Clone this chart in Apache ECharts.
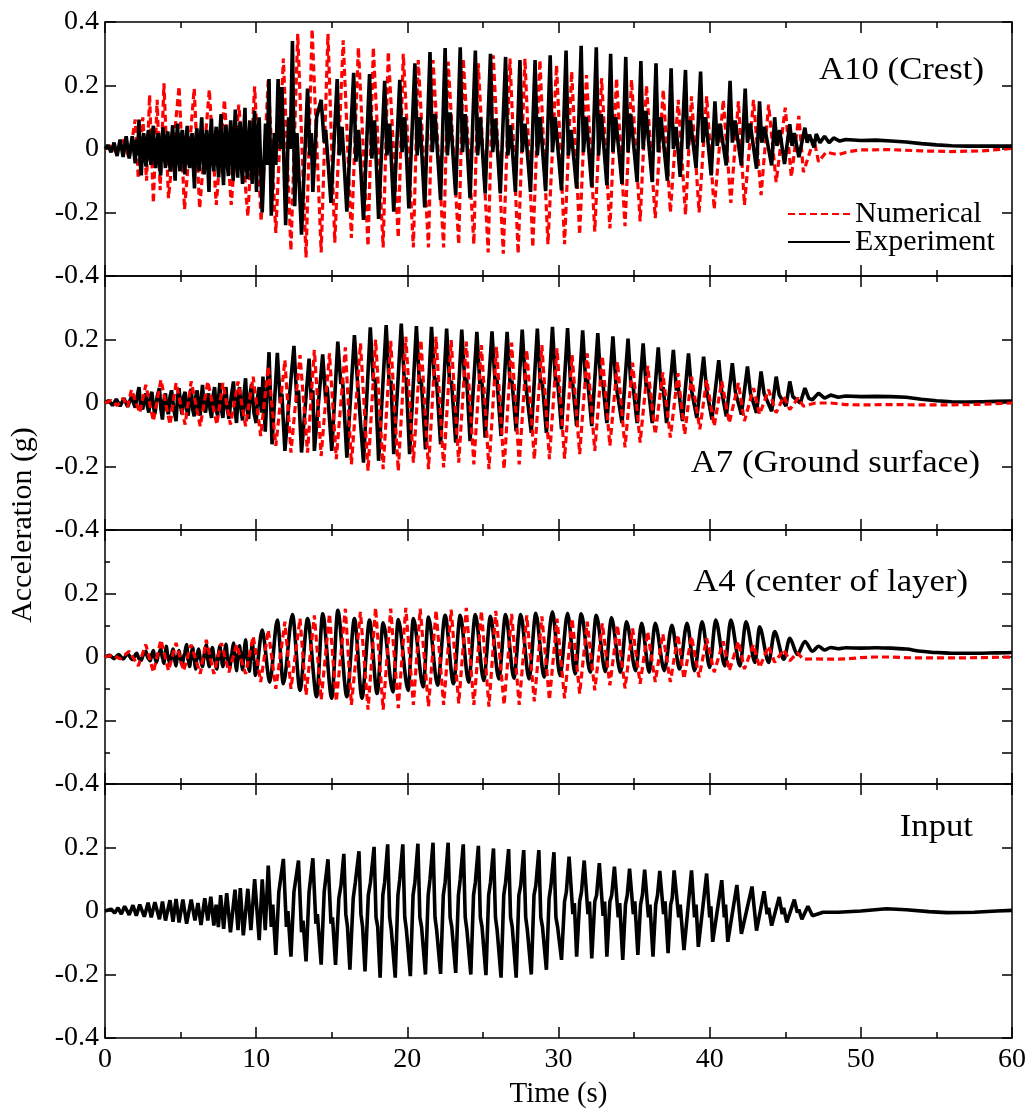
<!DOCTYPE html>
<html>
<head>
<meta charset="utf-8">
<script src="https://cdn.jsdelivr.net/npm/echarts@6/dist/echarts.min.js"></script>
<style>
  html, body { margin: 0; padding: 0; background: #ffffff; }
  #chart { width: 1032px; height: 1113px; }
</style>
</head>
<body>
<div id="chart"></div>
<script>
// ---- Acceleration records, [time (s), acceleration (g)] ----

// A10 (Crest)
const crestNumerical = [
  [0,0],[0.4,0.012],[0.8,-0.015],[1.2,0.03],[1.6,-0.03],[2.0,0.093],[2.2,-0.093],[2.5,0.1],[2.75,-0.1],
  [2.95,0.17],[3.2,-0.17],[3.45,0.155],[3.65,-0.13],[3.9,0.207],[4.2,-0.155],[4.9,0.197],[5.26,-0.19],
  [5.9,0.19],[6.26,-0.187],[6.9,0.187],[7.36,-0.176],[7.9,0.155],[8.35,-0.176],[8.85,0.14],[9.45,-0.212],
  [9.9,0.197],[10.33,-0.228],[10.8,0.217],[11.3,-0.264],[11.8,0.285],[12.3,-0.32],[12.75,0.363],[13.3,-0.342],
  [13.7,0.378],[14.3,-0.326],[14.75,0.363],[15.2,-0.295],[15.76,0.342],[16.3,-0.28],[16.76,0.32],[17.4,-0.306],
  [17.75,0.32],[18.4,-0.31],[18.74,0.306],[19.4,-0.28],[19.73,0.3],[20.4,-0.31],[20.72,0.28],[21.4,-0.31],
  [21.7,0.28],[22.4,-0.31],[22.7,0.275],[23.4,-0.3],[23.7,0.285],[24.4,-0.3],[24.69,0.27],[25.35,-0.326],
  [25.68,0.295],[26.35,-0.33],[26.79,0.285],[27.33,-0.33],[27.78,0.285],[28.3,-0.31],[28.77,0.28],[29.3,-0.3],
  [29.87,0.264],[30.4,-0.3],[30.87,0.244],[31.4,-0.27],[31.85,0.233],[32.4,-0.26],[32.85,0.223],[33.4,-0.25],
  [33.84,0.223],[34.4,-0.243],[34.83,0.218],[35.4,-0.228],[35.82,0.2],[36.4,-0.218],[36.93,0.187],[37.4,-0.2],
  [37.92,0.155],[38.4,-0.207],[38.8,0.166],[39.3,-0.2],[39.8,0.166],[40.3,-0.19],[40.9,0.155],[41.4,-0.17],
  [41.9,0.15],[42.3,-0.176],[42.9,0.155],[43.4,-0.145],[43.9,0.14],[44.4,-0.104],[45.0,0.13],[45.4,-0.088],
  [45.9,0.104],[46.2,-0.073],[46.9,0.03],[47.2,-0.04],[47.7,-0.01],[48.5,-0.018],[49.2,-0.008],[50,-0.003],
  [52,-0.002],[54,-0.006],[56,-0.008],[58,-0.006],[60,0.002]
];
const crestExperiment = [
  [0,0],[0.2,0.012],[0.4,-0.01],[0.6,0.02],[0.8,-0.022],[1.0,0.03],[1.2,-0.025],[1.4,0.04],[1.6,-0.03],
  [1.8,0.04],[2.0,-0.045],[2.08,0.03],[2.16,-0.02],[2.25,0.093],[2.32,-0.04],[2.4,-0.083],[2.48,0.02],
  [2.56,0.05],[2.64,-0.03],[2.72,-0.055],[2.8,0.03],[2.88,0.06],[2.96,-0.02],[3.04,-0.05],[3.12,0.04],
  [3.2,0.073],[3.28,-0.03],[3.36,-0.06],[3.44,0.02],[3.52,0.05],[3.6,-0.04],[3.68,-0.083],[3.76,0.03],
  [3.84,0.068],[3.92,-0.02],[4.0,-0.06],[4.08,0.04],[4.16,0.055],[4.24,-0.03],[4.32,-0.07],[4.4,0.03],
  [4.48,0.075],[4.56,-0.04],[4.64,-0.1],[4.72,0.02],[4.8,0.08],[4.88,-0.03],[4.96,-0.07],[5.04,0.04],
  [5.12,0.06],[5.2,-0.04],[5.28,-0.08],[5.36,0.03],[5.44,0.073],[5.52,-0.03],[5.6,-0.06],[5.68,0.02],
  [5.76,0.05],[5.84,-0.05],[5.92,-0.124],[6.0,0.03],[6.08,0.065],[6.16,-0.03],[6.24,-0.07],[6.32,0.04],
  [6.4,0.1],[6.48,-0.02],[6.56,-0.08],[6.64,0.03],[6.72,0.06],[6.8,-0.05],[6.88,-0.135],[6.96,0.04],
  [7.04,0.095],[7.12,-0.03],[7.2,-0.07],[7.28,0.03],[7.36,0.07],[7.44,-0.04],[7.52,-0.09],[7.6,0.05],
  [7.68,0.11],[7.76,-0.04],[7.84,-0.114],[7.92,0.03],[8.0,0.075],[8.08,-0.04],[8.16,-0.085],[8.24,0.04],
  [8.32,0.09],[8.4,-0.03],[8.48,-0.1],[8.56,0.05],[8.62,0.124],[8.7,-0.03],[8.78,-0.09],[8.86,0.04],
  [8.94,0.085],[9.02,-0.05],[9.1,-0.11],[9.18,0.05],[9.26,0.13],[9.34,-0.04],[9.42,-0.095],[9.5,0.03],
  [9.58,0.09],[9.66,-0.05],[9.74,-0.11],[9.82,0.06],[9.9,0.12],[9.96,-0.02],[10.02,-0.135],[10.1,0.03],
  [10.2,0.1],[10.3,-0.06],[10.4,-0.2],[10.62,0.08],[10.72,-0.05],
  [10.85,0.22],[11.0,-0.21],[11.2,0.05],[11.3,-0.05],[11.45,0.22],[11.6,0.0],[11.7,0.195],[11.95,-0.24],
  [12.15,0.1],[12.25,0.0],[12.4,0.34],[12.55,-0.18],[12.7,0.05],[13.0,-0.27],[13.4,0.19],[13.55,-0.02],
  [13.65,0.05],[13.75,-0.135],[14.0,0.1],[14.3,0.155],[14.5,0.02],[14.6,0.06],[14.95,-0.17],
  [15.36,0.22],[15.5,-0.02],[15.68,0.07],[16.0,-0.197],[16.45,0.24],[16.6,-0.04],[16.78,0.06],
  [17.1,-0.223],[17.5,0.236],[17.65,-0.03],[17.83,0.09],[18.1,-0.22],[18.5,0.215],[18.65,-0.02],[18.83,0.08],
  [19.1,-0.197],[19.5,0.218],[19.65,-0.01],[19.83,0.1],[20.1,-0.187],[20.5,0.27],[20.65,-0.02],[20.83,0.1],
  [21.15,-0.184],[21.5,0.305],[21.65,-0.01],[21.83,0.11],[22.2,-0.16],[22.5,0.318],[22.65,-0.02],[22.83,0.115],
  [23.2,-0.145],[23.5,0.32],[23.65,-0.01],[23.83,0.11],[24.15,-0.155],[24.5,0.31],[24.65,-0.02],[24.83,0.1],
  [25.15,-0.14],[25.5,0.3],[25.65,-0.01],[25.83,0.095],[26.15,-0.14],[26.5,0.29],[26.65,-0.02],[26.83,0.075],
  [27.15,-0.135],[27.45,0.28],[27.6,-0.01],[27.78,0.08],[28.15,-0.135],[28.45,0.28],[28.6,-0.02],[28.78,0.1],
  [29.15,-0.133],[29.45,0.295],[29.6,-0.01],[29.78,0.1],[30.2,-0.13],[30.5,0.31],[30.65,-0.02],[30.83,0.06],
  [31.2,-0.124],[31.5,0.325],[31.65,-0.01],[31.83,0.1],[32.2,-0.12],[32.5,0.32],[32.65,-0.02],[32.83,0.11],
  [33.2,-0.114],[33.45,0.3],[33.6,-0.01],[33.78,0.1],[34.2,-0.11],[34.45,0.29],[34.6,-0.01],[34.78,0.11],
  [35.2,-0.104],[35.45,0.277],[35.6,0.0],[35.78,0.12],[36.2,-0.104],[36.45,0.27],[36.6,-0.01],[36.78,0.1],
  [37.2,-0.1],[37.45,0.254],[37.6,0.0],[37.78,0.07],[38.05,-0.088],[38.4,0.249],[38.55,0.0],[38.73,0.09],
  [39.1,-0.06],[39.4,0.244],[39.55,0.02],[39.73,0.1],[40.1,-0.083],[40.35,0.15],[40.5,0.01],[40.68,0.08],
  [41.1,-0.052],[41.35,0.215],[41.5,0.02],[41.68,0.09],[42.1,-0.052],[42.35,0.19],[42.5,0.02],[42.68,0.08],
  [43.1,-0.062],[43.3,0.15],[43.45,0.02],[43.63,0.07],[44.1,-0.052],[44.3,0.1],[44.45,0.01],[44.63,0.06],
  [44.95,-0.047],[45.3,0.078],[45.45,0.01],[45.6,0.05],[45.9,-0.026],[46.3,0.067],[46.45,0.02],[46.6,0.045],
  [46.9,0.005],[47.05,0.047],[47.3,0.02],[47.6,0.04],[47.9,0.02],[48.2,0.035],[48.6,0.025],[49,0.03],
  [50,0.027],[51,0.028],[52,0.025],[53,0.022],[54,0.017],[55,0.013],[56,0.01],[57,0.009],[58,0.009],
  [59,0.009],[60,0.009]
];

// A7 (Ground surface)
const groundNumerical = [
  [0,0],[0.4,0.008],[0.8,-0.008],[1.2,0.015],[1.5,-0.012],[1.75,0.042],[2.3,-0.031],[2.7,0.057],[3.2,-0.057],
  [3.7,0.073],[4.3,-0.068],[4.7,0.063],[5.3,-0.068],[5.7,0.068],[6.3,-0.073],[6.8,0.068],[7.4,-0.068],
  [7.8,0.063],[8.3,-0.068],[8.8,0.068],[9.3,-0.073],[9.8,0.083],[10.3,-0.104],[10.8,0.115],[11.3,-0.135],
  [11.9,0.135],[12.3,-0.156],[12.9,0.151],[13.4,-0.156],[13.85,0.167],[14.3,-0.167],[14.85,0.156],[15.3,-0.177],
  [15.9,0.175],[16.3,-0.193],[16.9,0.188],[17.4,-0.214],[17.9,0.2],[18.4,-0.208],[18.9,0.196],[19.4,-0.214],
  [19.9,0.208],[20.4,-0.188],[20.9,0.198],[21.4,-0.208],[21.9,0.208],[22.4,-0.203],[22.9,0.198],[23.4,-0.188],
  [23.9,0.193],[24.4,-0.193],[24.9,0.182],[25.4,-0.208],[25.9,0.177],[26.4,-0.208],[26.9,0.19],[27.4,-0.193],
  [27.9,0.167],[28.4,-0.177],[28.9,0.182],[29.4,-0.177],[29.9,0.172],[30.4,-0.175],[30.9,0.151],[31.4,-0.161],
  [31.9,0.156],[32.4,-0.151],[32.9,0.148],[33.4,-0.135],[33.9,0.13],[34.4,-0.14],[34.9,0.127],[35.4,-0.125],
  [35.9,0.117],[36.4,-0.099],[36.9,0.096],[37.4,-0.109],[37.9,0.094],[38.35,-0.099],[38.8,0.083],[39.35,-0.083],
  [39.8,0.073],[40.3,-0.073],[40.8,0.068],[41.3,-0.063],[41.9,0.063],[42.3,-0.057],[42.9,0.047],[43.3,-0.036],
  [43.9,0.042],[44.4,-0.031],[44.9,0.021],[45.3,-0.021],[45.85,0.016],[46.2,-0.01],[47,0.0],[48,0.0],
  [49,-0.005],[50,-0.006],[52,-0.005],[54,-0.006],[56,-0.006],[58,-0.004],[60,0.0]
];
const groundExperiment = [
  [0,0],[0.25,0.008],[0.5,-0.008],[0.75,0.012],[1.0,-0.01],[1.25,0.015],[1.5,-0.012],[1.75,0.02],[2.0,-0.015],
  [2.12,0.02],[2.25,0.05],[2.36,-0.01],[2.5,-0.02],[2.6,0.015],[2.7,0.03],[2.8,-0.01],[2.9,-0.03],[3.0,0.02],
  [3.1,0.035],[3.2,-0.01],[3.3,-0.035],[3.45,0.02],[3.6,0.047],[3.7,-0.02],[3.8,-0.052],[3.9,0.01],[4.0,0.03],
  [4.1,-0.02],[4.2,-0.035],[4.3,0.02],[4.4,0.04],[4.55,-0.02],[4.7,-0.057],[4.8,0.02],[4.9,0.047],[5.0,-0.01],
  [5.1,-0.035],[5.2,0.02],[5.3,0.035],[5.4,-0.02],[5.5,-0.04],[5.6,0.02],[5.7,0.045],[5.8,-0.02],[5.9,-0.042],
  [6.0,0.02],[6.1,0.04],[6.2,-0.02],[6.3,-0.04],[6.38,0.02],[6.45,0.057],[6.55,-0.01],[6.65,-0.03],[6.75,0.01],
  [6.85,0.03],[6.95,-0.02],[7.05,-0.047],[7.15,0.02],[7.25,0.05],[7.35,-0.02],[7.45,-0.04],[7.52,0.02],
  [7.6,0.063],[7.7,-0.02],[7.8,-0.047],[7.9,0.02],[8.0,0.05],[8.1,-0.02],[8.2,-0.05],[8.35,0.02],[8.5,0.068],
  [8.6,-0.02],[8.7,-0.063],[8.8,0.02],[8.9,0.05],[9.0,-0.02],[9.1,-0.055],[9.2,0.03],[9.3,0.078],[9.4,-0.02],
  [9.5,-0.05],[9.6,0.03],[9.7,0.06],[9.85,-0.03],[10.0,-0.063],[10.1,0.02],[10.2,0.05],[10.35,-0.03],
  [10.45,0.083],[10.6,-0.09],[10.85,0.16],
  [11.05,-0.13],[11.4,0.158],[11.6,0.0],[11.7,0.03],[11.9,-0.151],[12.2,0.02],[12.5,0.18],[12.7,0.0],[12.8,0.04],
  [13.0,-0.156],[13.5,0.14],[13.65,0.01],[13.75,0.04],[13.85,-0.151],[14.4,0.153],[14.6,0.01],[14.7,0.05],
  [15.0,-0.151],[15.4,0.193],[15.6,0.06],[15.72,0.07],[16.0,-0.172],[16.5,0.214],[16.7,0.07],[16.82,0.075],
  [17.1,-0.188],[17.55,0.238],[17.75,0.07],[17.87,0.08],[18.1,-0.182],[18.6,0.245],[18.8,0.06],[18.92,0.07],
  [19.1,-0.161],[19.6,0.25],[19.8,0.07],[19.92,0.08],[20.15,-0.161],[20.6,0.242],[20.8,0.06],[20.92,0.075],
  [21.2,-0.146],[21.6,0.24],[21.8,0.07],[21.92,0.08],[22.2,-0.13],[22.6,0.234],[22.8,0.06],[22.92,0.07],
  [23.2,-0.125],[23.6,0.231],[23.8,0.07],[23.92,0.08],[24.15,-0.12],[24.6,0.224],[24.8,0.06],[24.92,0.075],
  [25.15,-0.109],[25.6,0.226],[25.8,0.07],[25.92,0.08],[26.2,-0.104],[26.6,0.224],[26.8,0.06],[26.92,0.07],
  [27.2,-0.089],[27.6,0.231],[27.8,0.07],[27.92,0.075],[28.2,-0.094],[28.6,0.234],[28.8,0.06],[28.92,0.07],
  [29.2,-0.094],[29.6,0.24],[29.8,0.07],[29.92,0.08],[30.2,-0.083],[30.6,0.236],[30.8,0.06],[30.92,0.07],
  [31.2,-0.073],[31.6,0.229],[31.8,0.065],[31.92,0.075],[32.2,-0.073],[32.6,0.22],[32.8,0.06],[32.92,0.07],
  [33.2,-0.063],[33.6,0.21],[33.8,0.06],[33.92,0.065],[34.2,-0.063],[34.6,0.203],[34.8,0.05],[34.92,0.06],
  [35.2,-0.063],[35.6,0.188],[35.8,0.05],[35.92,0.06],[36.2,-0.063],[36.6,0.175],[36.8,0.04],[36.92,0.05],
  [37.15,-0.063],[37.6,0.167],[37.8,0.04],[37.92,0.05],[38.2,-0.057],[38.6,0.156],[38.8,0.04],[38.92,0.045],
  [39.15,-0.047],[39.6,0.146],[39.8,0.04],[39.92,0.045],[40.15,-0.052],[40.6,0.135],[40.8,0.035],[40.92,0.04],
  [41.1,-0.042],[41.5,0.125],[41.7,0.035],[41.82,0.04],[42.1,-0.036],[42.5,0.115],[42.7,0.03],[42.82,0.035],
  [43.1,-0.031],[43.4,0.099],[43.6,0.03],[43.72,0.035],[44.1,-0.026],[44.4,0.083],[44.6,0.025],[44.72,0.03],
  [45.05,-0.01],[45.3,0.068],[45.5,0.02],[45.62,0.025],[46.0,0.0],[46.3,0.047],[46.55,0.015],[46.8,0.01],
  [47.2,0.031],[47.6,0.015],[48,0.025],[48.5,0.018],[49,0.022],[50,0.02],[51,0.021],[52,0.02],[53,0.018],
  [54,0.012],[55,0.007],[56,0.004],[57,0.003],[58,0.004],[59,0.005],[60,0.006]
];

// A4 (center of layer)
const layerNumerical = [
  [0,0],[0.5,0.006],[1.0,-0.006],[1.6,0.018],[2.2,-0.028],[2.7,0.039],[3.2,-0.048],[3.7,0.054],[4.2,-0.043],
  [4.7,0.044],[5.2,-0.043],[5.7,0.039],[6.3,-0.053],[6.7,0.054],[7.2,-0.053],[7.7,0.044],[8.2,-0.048],
  [8.7,0.039],[9.3,-0.053],[9.8,0.065],[10.3,-0.079],[10.8,0.085],[11.3,-0.1],[11.9,0.111],[12.3,-0.1],
  [12.9,0.121],[13.3,-0.12],[13.85,0.131],[14.3,-0.135],[14.85,0.136],[15.3,-0.14],[15.9,0.152],[16.3,-0.151],
  [16.9,0.142],[17.4,-0.166],[17.9,0.155],[18.4,-0.166],[18.9,0.152],[19.4,-0.161],[19.9,0.155],[20.4,-0.151],
  [20.85,0.152],[21.4,-0.156],[21.9,0.147],[22.4,-0.151],[22.9,0.149],[23.4,-0.146],[23.9,0.155],[24.4,-0.151],
  [24.9,0.145],[25.4,-0.156],[25.85,0.145],[26.4,-0.151],[26.9,0.136],[27.4,-0.151],[27.9,0.131],[28.4,-0.14],
  [28.9,0.128],[29.4,-0.135],[29.9,0.121],[30.4,-0.13],[30.9,0.121],[31.4,-0.115],[31.9,0.111],[32.4,-0.105],
  [32.9,0.106],[33.4,-0.089],[33.9,0.1],[34.4,-0.099],[34.9,0.09],[35.4,-0.084],[35.9,0.08],[36.4,-0.079],
  [36.9,0.073],[37.4,-0.079],[37.9,0.07],[38.3,-0.069],[38.8,0.065],[39.3,-0.064],[39.8,0.059],[40.3,-0.048],
  [40.9,0.049],[41.3,-0.043],[41.9,0.049],[42.3,-0.038],[42.9,0.039],[43.3,-0.033],[43.9,0.034],[44.3,-0.017],
  [44.9,0.023],[45.3,-0.012],[45.8,0.013],[46.2,-0.007],[47,-0.006],[48,-0.007],[49,-0.006],[50,-0.002],
  [51,0.0],[52,0.0],[53,-0.002],[54,-0.003],[56,-0.003],[58,-0.002],[60,0.0]
];
const layerExperiment = [
  [0,0],[0.3,0.005],[0.6,-0.005],[0.9,0.008],[1.2,-0.006],[1.5,0.01],[1.8,-0.008],[2.1,0.012],[2.25,-0.005],
  [2.4,-0.01],[2.55,0.008],[2.7,0.018],[2.85,-0.005],[3.0,-0.012],[3.1,0.01],[3.2,0.02],[3.3,-0.005],
  [3.4,-0.017],[3.55,0.01],[3.7,0.025],[3.8,-0.005],[3.9,-0.02],[3.98,0.01],[4.05,0.034],[4.18,-0.005],
  [4.3,-0.02],[4.4,0.01],[4.5,0.025],[4.6,-0.01],[4.7,-0.028],[4.8,0.005],[4.9,0.02],[5.0,-0.01],[5.1,-0.025],
  [5.25,0.01],[5.4,0.039],[5.5,-0.01],[5.6,-0.03],[5.7,0.01],[5.8,0.03],[5.9,-0.01],[6.0,-0.038],[6.1,0.01],
  [6.2,0.025],[6.32,-0.01],[6.45,-0.03],[6.58,0.01],[6.7,0.039],[6.8,-0.01],[6.9,-0.03],[7.0,0.01],[7.1,0.03],
  [7.25,-0.01],[7.4,-0.038],[7.5,0.01],[7.6,0.035],[7.7,-0.01],[7.8,-0.03],[7.9,0.015],[8.0,0.04],[8.12,-0.01],
  [8.25,-0.035],[8.38,0.01],[8.5,0.044],[8.6,-0.01],[8.7,-0.043],[8.8,0.01],[8.9,0.035],[9.0,-0.01],[9.1,-0.04],
  [9.2,0.02],[9.3,0.054],[9.42,-0.01],[9.55,-0.045],[9.65,0.01],[9.75,0.045],[9.85,-0.01],[9.95,-0.058],
  [10.4,0.085],[10.9,-0.079],[11.4,0.116],[11.8,-0.084],[12.4,0.134],[12.9,-0.105],[13.4,0.121],[14.0,-0.125],
  [14.4,0.136],[15.0,-0.13],[15.4,0.147],[16.0,-0.125],[16.5,0.121],[17.0,-0.13],[17.5,0.116],[18.0,-0.115],
  [18.4,0.108],[19.05,-0.11],[19.4,0.118],[20.05,-0.105],[20.4,0.121],[21.05,-0.094],[21.4,0.126],[22.0,-0.089],
  [22.5,0.131],[23.05,-0.084],[23.5,0.131],[24.05,-0.079],[24.5,0.134],[25.05,-0.074],[25.5,0.128],[26.05,-0.069],
  [26.5,0.134],[27.05,-0.067],[27.5,0.134],[28.05,-0.069],[28.5,0.138],[29.05,-0.064],[29.6,0.142],[30.1,-0.058],
  [30.6,0.138],[31.1,-0.053],[31.5,0.136],[32.1,-0.048],[32.5,0.131],[33.1,-0.046],[33.5,0.124],[34.1,-0.048],
  [34.5,0.111],[35.1,-0.043],[35.5,0.106],[36.0,-0.048],[36.4,0.106],[37.0,-0.043],[37.5,0.1],[38.0,-0.038],
  [38.5,0.106],[39.0,-0.043],[39.5,0.111],[40.0,-0.033],[40.4,0.116],[41.0,-0.028],[41.4,0.116],[42.0,-0.028],
  [42.4,0.111],[43.0,-0.017],[43.3,0.095],[43.9,-0.017],[44.3,0.08],[44.9,-0.007],[45.3,0.059],[45.8,0.008],
  [46.3,0.049],[46.8,0.018],[47.2,0.034],[47.6,0.022],[48,0.03],[48.5,0.026],[49,0.029],[50,0.028],[51,0.029],
  [52,0.028],[53,0.025],[54,0.018],[55,0.014],[56,0.012],[57,0.012],[58,0.012],[59,0.013],[60,0.014]
];

// Input motion
const inputMotion = [
  [0,0],[0.4,0.006],[0.64,-0.006],[0.86,0.01],[1.08,-0.01],[1.3,0.015],[1.6,-0.012],[1.85,0.018],[2.07,-0.015],
  [2.3,0.02],[2.6,-0.018],[2.85,0.026],[3.06,-0.02],[3.3,0.028],[3.6,-0.026],[3.8,0.03],[4.0,-0.03],[4.3,0.034],
  [4.5,-0.034],[4.7,0.038],[4.9,-0.036],[5.15,0.036],[5.4,-0.04],[5.7,0.036],[5.95,-0.03],[6.15,0.025],
  [6.35,-0.044],[6.6,0.04],[6.8,-0.03],[7.0,0.045],[7.2,-0.046],[7.35,0.02],[7.5,-0.051],[7.65,0.05],
  [7.85,-0.056],[8.05,0.056],[8.3,-0.067],[8.6,0.067],[8.8,-0.06],[8.95,0.072],[9.15,-0.077],[9.45,0.07],
  [9.65,-0.06],[9.9,0.1],[10.2,-0.092],[10.4,0.1],[10.6,-0.06],[10.8,0.143],[11.0,-0.05],[11.1,0.02],
  [11.3,-0.138],[11.5,0.06],[11.8,0.164],[12.0,-0.05],[12.1,0.0],[12.3,-0.144],[12.5,0.06],[12.8,0.159],
  [13.0,-0.067],[13.1,-0.03],[13.3,-0.159],[13.5,0.06],[13.75,0.166],[13.95,-0.04],[14.05,-0.01],[14.3,-0.169],
  [14.5,0.06],[14.75,0.163],[14.95,-0.04],[15.05,-0.02],[15.25,-0.17],
  [15.47,0.04],[15.61,0.08],[15.8,0.18],[15.93,-0.01],[16.04,-0.05],[16.2,-0.185],
  [16.42,0.04],[16.56,0.09],[16.8,0.188],[16.93,-0.01],[17.04,-0.05],[17.2,-0.19],
  [17.42,0.05],[17.56,0.09],[17.8,0.202],[17.93,-0.02],[18.04,-0.05],[18.2,-0.21],
  [18.38,0.05],[18.5,0.09],[18.7,0.21],[18.83,-0.02],[18.94,-0.06],[19.2,-0.21],
  [19.38,0.05],[19.5,0.1],[19.7,0.21],[19.83,-0.02],[19.94,-0.06],[20.2,-0.205],
  [20.38,0.05],[20.5,0.09],[20.7,0.212],[20.83,-0.02],[20.94,-0.05],[21.2,-0.2],
  [21.38,0.05],[21.5,0.1],[21.7,0.215],[21.83,-0.02],[21.94,-0.06],[22.2,-0.198],
  [22.38,0.05],[22.5,0.09],[22.7,0.215],[22.83,-0.02],[22.94,-0.05],[23.2,-0.195],
  [23.38,0.05],[23.5,0.1],[23.7,0.21],[23.83,-0.02],[23.94,-0.06],[24.2,-0.2],
  [24.38,0.05],[24.5,0.09],[24.7,0.205],[24.83,-0.02],[24.94,-0.05],[25.2,-0.202],
  [25.38,0.05],[25.5,0.09],[25.7,0.197],[25.83,-0.02],[25.94,-0.06],[26.2,-0.21],
  [26.38,0.05],[26.5,0.09],[26.7,0.195],[26.83,-0.02],[26.94,-0.05],[27.2,-0.21],
  [27.38,0.05],[27.5,0.08],[27.7,0.192],[27.83,-0.02],[27.94,-0.06],[28.2,-0.2],
  [28.38,0.05],[28.5,0.08],[28.7,0.192],[28.83,-0.02],[28.94,-0.05],[29.2,-0.185],
  [29.38,0.04],[29.5,0.08],[29.7,0.185],[29.83,-0.02],[29.94,-0.05],[30.2,-0.154],
  [30.4,0.03],[30.52,0.06],[30.7,0.171],[30.95,-0.01],[31.05,0.025],[31.2,-0.144],
  [31.4,0.03],[31.52,0.06],[31.7,0.159],[31.95,-0.01],[32.05,0.03],[32.2,-0.149],
  [32.4,0.03],[32.52,0.05],[32.7,0.151],[32.95,-0.015],[33.05,0.03],[33.2,-0.144],
  [33.4,0.03],[33.52,0.05],[33.7,0.14],[33.95,-0.02],[34.05,0.025],[34.25,-0.154],
  [34.43,0.02],[34.55,0.05],[34.7,0.133],[34.95,-0.01],[35.05,0.03],[35.25,-0.138],
  [35.43,0.02],[35.55,0.05],[35.7,0.13],[35.95,-0.02],[36.05,0.02],[36.25,-0.144],
  [36.43,0.02],[36.55,0.05],[36.7,0.126],[36.95,-0.01],[37.05,0.03],[37.25,-0.133],
  [37.42,0.02],[37.52,0.04],[37.65,0.128],[37.95,-0.02],[38.05,0.02],[38.3,-0.123],
  [38.8,0.128],[39.0,-0.02],[39.1,0.02],[39.25,-0.113],[39.8,0.118],
  [40.0,-0.02],[40.08,0.015],[40.2,-0.097],[40.8,0.097],[40.97,-0.02],[41.05,0.02],[41.2,-0.097],[41.8,0.082],
  [42.1,-0.072],[42.8,0.077],[43.1,-0.062],[43.6,0.062],[43.8,-0.01],[43.9,0.01],[44.1,-0.046],[44.6,0.044],
  [44.8,-0.01],[44.9,0.01],[45.1,-0.036],[45.6,0.036],[45.8,-0.005],[45.9,0.005],[46.1,-0.026],[46.5,0.015],
  [46.8,-0.015],[47.5,-0.004],[48.5,-0.004],[50,0.0],[51.7,0.007],[53,0.004],[54.5,-0.002],[55.7,-0.005],
  [57.5,-0.004],[59,0.0],[60,0.002]
];

// Panel captions and legend entries
const panelLabels = ['A10 (Crest)', 'A7 (Ground surface)', 'A4 (center of layer)', 'Input'];
const legendNames = ['Numerical', 'Experiment'];
const xAxisTitle = 'Time (s)';
const yAxisTitle = 'Acceleration (g)';

// ---- layout & styling ----
const FONT = '"Liberation Serif", "Times New Roman", Times, serif';
const RED = '#ff0000';
const BLACK = '#000000';
const GRID_LEFT = 105, GRID_RIGHT = 20, PANEL_H = 254;
const panelTops = [22, 276, 530, 784];
const labelAnchors = [[984, 71], [980, 464], [968, 583], [973, 828]];
const experimentSmooth = [false, false, 0.3, false];

const numericalSets = [crestNumerical, groundNumerical, layerNumerical, null];
const experimentSets = [crestExperiment, groundExperiment, layerExperiment, inputMotion];

const frameLine = { color: BLACK, width: 1.5 };

function fmtTick(v) {
  if (Math.abs(v) < 1e-9) return '0';
  return String(+v.toFixed(1));
}

const grids = [], xAxes = [], yAxes = [], series = [], graphics = [];

for (let i = 0; i < 4; i++) {
  grids.push({ left: GRID_LEFT, right: GRID_RIGHT, top: panelTops[i], height: PANEL_H, containLabel: false });
  const isLast = i === 3;
  const xCommon = {
    gridIndex: i, type: 'value', min: 0, max: 60, interval: 10,
    axisLine: { show: true, onZero: false, lineStyle: frameLine },
    axisTick: { show: true, inside: true, length: 11, lineStyle: frameLine },
    minorTick: { show: true, splitNumber: 2, length: 6, lineStyle: frameLine },
    splitLine: { show: false }, minorSplitLine: { show: false }
  };
  xAxes.push(Object.assign({}, xCommon, {
    position: 'bottom',
    axisLabel: { show: isLast, color: BLACK, fontFamily: FONT, fontSize: 28, margin: 8 },
    name: isLast ? xAxisTitle : '',
    nameLocation: 'middle', nameGap: 42,
    nameTextStyle: { color: BLACK, fontFamily: FONT, fontSize: 29 }
  }));
  xAxes.push(Object.assign({}, xCommon, { position: 'top', axisLabel: { show: false } }));

  const yCommon = {
    gridIndex: i, type: 'value', min: -0.4, max: 0.4,
    axisLine: { show: true, onZero: false, lineStyle: frameLine },
    splitLine: { show: false }, minorSplitLine: { show: false }
  };
  yAxes.push(Object.assign({}, yCommon, {
    position: 'left', interval: 0.2,
    axisTick: { show: true, inside: true, length: 11, lineStyle: frameLine },
    minorTick: { show: i === 2, splitNumber: 2, length: 5, lineStyle: frameLine },
    axisLabel: {
      show: true, color: BLACK, fontFamily: FONT, fontSize: 28, margin: 6,
      showMaxLabel: i === 0, formatter: fmtTick
    }
  }));
  yAxes.push(Object.assign({}, yCommon, {
    position: 'right', interval: i === 2 ? 0.1 : 0.2,
    axisTick: { show: true, inside: true, length: 10, lineStyle: frameLine },
    axisLabel: { show: false }
  }));

  const numSeries = numericalSets[i] ? {
    type: 'line', name: legendNames[0], xAxisIndex: 2 * i, yAxisIndex: 2 * i,
    data: numericalSets[i], showSymbol: false, symbol: 'none', animation: false,
    color: RED, lineStyle: { color: RED, width: 3.2, type: [7, 4] },
    z: i === 0 ? 2 : 4
  } : null;
  const expSeries = {
    type: 'line', name: isLast ? 'Input' : legendNames[1], xAxisIndex: 2 * i, yAxisIndex: 2 * i,
    data: experimentSets[i], showSymbol: false, symbol: 'none', animation: false,
    smooth: experimentSmooth[i], smoothMonotone: 'x',
    color: BLACK, lineStyle: { color: BLACK, width: 3.6 },
    z: 3
  };
  if (numSeries) series.push(numSeries);
  series.push(expSeries);

  graphics.push({
    type: 'text', x: labelAnchors[i][0], y: labelAnchors[i][1], scaleX: 1.12, scaleY: 1,
    style: {
      text: panelLabels[i], fill: BLACK, fontFamily: FONT, fontSize: 31,
      align: 'right', textAlign: 'right', verticalAlign: 'middle', textVerticalAlign: 'middle'
    },
    z: 10
  });
}

graphics.push({
  type: 'text', x: 23, y: 525, rotation: Math.PI / 2,
  style: {
    text: yAxisTitle, fill: BLACK, fontFamily: FONT, fontSize: 30,
    align: 'center', textAlign: 'center', verticalAlign: 'middle', textVerticalAlign: 'middle'
  },
  z: 10
});

const chart = echarts.init(document.getElementById('chart'), null, { renderer: 'canvas' });
chart.setOption({
  animation: false,
  backgroundColor: '#ffffff',
  grid: grids,
  xAxis: xAxes,
  yAxis: yAxes,
  legend: {
    data: legendNames, orient: 'vertical', left: 782, top: 194,
    itemWidth: 62, itemHeight: 14, itemGap: -2, selectedMode: false,
    itemStyle: { opacity: 0 },
    textStyle: { color: BLACK, fontFamily: FONT, fontSize: 30, lineHeight: 29 }
  },
  graphic: graphics,
  series: series
});
</script>
</body>
</html>
